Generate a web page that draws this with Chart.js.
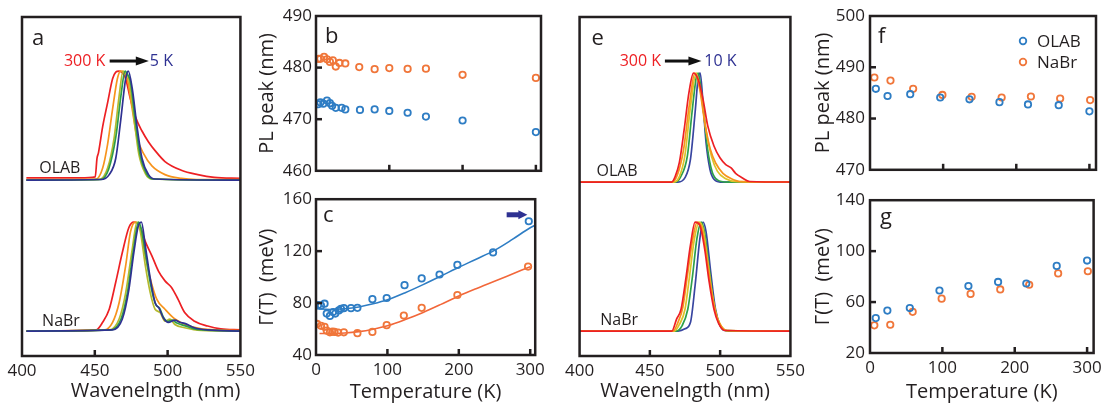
<!DOCTYPE html>
<html>
<head>
<meta charset="utf-8">
<script src="https://cdn.jsdelivr.net/npm/chart.js@4.4.1/dist/chart.umd.min.js"></script>
<style>
  body { margin: 0; background: #fff; width: 1107px; height: 404px; position: relative; overflow: hidden; }
  canvas { position: absolute; }
</style>
</head>
<body>
<canvas id="pa"></canvas>
<canvas id="pb"></canvas>
<canvas id="pc"></canvas>
<canvas id="pe"></canvas>
<canvas id="pf"></canvas>
<canvas id="pg"></canvas>
<script>
// ---- data ----
// spectra: [wavelength nm, normalised PL], ordered 300 K -> lowest T
const aOlabSpectra = [
  [[403,0.02],[440,0.02],[450.3,0.03],[451.5,0.2],[452.5,0.25],[455.4,0.49],[458.8,0.71],[462.2,0.93],[464.4,0.99],[466.5,1.0],[468.5,0.99],[471.2,0.93],[474.5,0.74],[477.9,0.58],[482.4,0.45],[486.9,0.35],[491.4,0.27],[498.2,0.17],[509.4,0.09],[520.7,0.05],[532,0.025],[550,0.015]],
  [[403,0.005],[451,0.01],[455.4,0.11],[458.8,0.33],[462.2,0.65],[465.5,0.93],[467.8,1.0],[470,0.99],[472.3,0.93],[475.7,0.65],[479,0.39],[483.6,0.24],[489.2,0.13],[498.2,0.05],[509.4,0.015],[520,0.005],[550,0.005]],
  [[403,0],[453,0.005],[458.8,0.11],[463.3,0.39],[466.7,0.77],[469.4,1.0],[471.5,0.97],[473.4,0.93],[476.8,0.58],[480.2,0.24],[484.7,0.06],[489.2,0.01],[550,0]],
  [[403,0],[454,0.005],[459.5,0.1],[464.5,0.4],[468,0.78],[470.8,1.0],[472.5,0.97],[474.5,0.9],[477.5,0.58],[481,0.24],[485.5,0.06],[490,0.01],[550,0]],
  [[403,0],[454.3,0.005],[459.9,0.05],[464.4,0.2],[467.8,0.55],[471.2,0.93],[473,1.0],[475.7,0.84],[479,0.49],[482.4,0.2],[486.9,0.05],[491.4,0.01],[550,0]]
];
const aNabrSpectra = [
  [[403,0],[450.9,0.01],[455.4,0.08],[459.9,0.2],[464.4,0.45],[468.9,0.72],[473.4,0.95],[476.8,1.0],[479,0.99],[481.3,0.95],[484.7,0.82],[489.2,0.69],[493.7,0.55],[498.2,0.46],[502.7,0.4],[507.2,0.29],[511.7,0.17],[518.5,0.09],[527.5,0.046],[536.5,0.02],[550,0.01]],
  [[403,0],[456.5,0.01],[462.2,0.08],[466.7,0.26],[471.2,0.6],[474.5,0.91],[477.9,1.0],[481.3,0.94],[484.7,0.69],[488.1,0.48],[492.6,0.29],[498.2,0.2],[505,0.11],[514,0.05],[527,0.015],[550,0.005]],
  [[403,0],[459.9,0.01],[466.7,0.11],[471.2,0.35],[475.7,0.75],[479,1.0],[481.3,0.91],[484.7,0.6],[488.1,0.35],[491.4,0.2],[494.8,0.17],[498.2,0.09],[501.6,0.11],[505,0.06],[511.7,0.03],[523,0.005],[550,0]],
  [[403,0],[461,0.01],[468,0.11],[472.5,0.36],[476.5,0.74],[480,1.0],[482,0.93],[485.5,0.65],[489,0.38],[492,0.24],[494.5,0.21],[497,0.13],[500,0.09],[503.5,0.1],[506,0.075],[511.7,0.05],[520,0.015],[550,0]],
  [[403,0],[462.2,0.01],[468.9,0.11],[473.4,0.38],[476.8,0.72],[480.2,0.98],[482,1.0],[484.7,0.78],[488.1,0.48],[491.4,0.26],[494.1,0.21],[497.1,0.12],[500.5,0.08],[505,0.1],[508.4,0.08],[511.7,0.07],[518.5,0.03],[527.5,0.01],[550,0]]
];
const eOlabSpectra = [
  [[400,0],[465.5,0],[468,0.05],[471,0.18],[474.4,0.48],[477.8,0.82],[481,1.0],[484.4,0.94],[487.8,0.76],[491.1,0.52],[495.6,0.33],[500,0.22],[504,0.16],[507.8,0.13],[511,0.08],[515.6,0.04],[521,0.005],[550,0]],
  [[400,0],[466,0],[470,0.08],[474,0.3],[478,0.7],[482,1.0],[485.5,0.85],[489,0.55],[493,0.3],[497,0.17],[502,0.08],[508,0.03],[515,0.003],[550,0]],
  [[400,0],[467,0],[471,0.05],[475,0.25],[479,0.7],[483,1.0],[486.5,0.8],[490,0.47],[494,0.23],[498,0.1],[504,0.03],[512,0.003],[550,0]],
  [[400,0],[467.8,0],[472,0.05],[476.7,0.24],[480,0.64],[483.3,0.98],[484.4,1.0],[487.5,0.73],[491.1,0.3],[494.4,0.09],[498,0.02],[505,0],[550,0]],
  [[400,0],[470,0],[475,0.04],[478.9,0.21],[482.2,0.64],[484.4,0.96],[485.8,1.0],[487.8,0.73],[490,0.36],[492.7,0.12],[495.6,0.025],[500,0],[550,0]]
];
const eNabrSpectra = [
  [[400,0],[465.6,0],[469,0.11],[472.2,0.2],[475.6,0.48],[478.9,0.79],[482.2,1.0],[485.6,0.97],[488.9,0.76],[492.2,0.45],[495.6,0.2],[498.9,0.07],[503.3,0.005],[550,0]],
  [[400,0],[466.5,0],[470,0.08],[473.5,0.22],[476.8,0.52],[480.2,0.82],[483.6,1.0],[486.8,0.95],[490,0.72],[493.2,0.42],[496.5,0.19],[500,0.06],[504.5,0.005],[550,0]],
  [[400,0],[467.5,0],[471,0.06],[475,0.2],[478.2,0.5],[481.5,0.83],[485,1.0],[488,0.93],[491,0.66],[494.2,0.35],[497.5,0.14],[501,0.04],[505,0.003],[550,0]],
  [[400,0],[468.5,0],[473,0.05],[477,0.2],[480.3,0.5],[483.5,0.85],[486.6,1.0],[489,0.9],[492,0.6],[495,0.3],[498.3,0.1],[502,0.02],[506,0],[550,0]],
  [[400,0],[470,0],[475,0.02],[478.9,0.08],[482.2,0.42],[485.6,0.85],[487.8,1.0],[490,0.91],[493.3,0.54],[496.7,0.2],[500,0.05],[503.3,0.005],[550,0]]
];

// b: PL peak vs T (5 K series)
const bTempOlab = [3, 6, 10, 15, 19, 22, 27, 35, 40, 60, 80, 100, 125, 150, 200, 300];
const bPeakOlab = [472.9, 473.25, 473.0, 473.6, 473.1, 472.6, 472.2, 472.2, 471.9, 471.8, 471.9, 471.6, 471.25, 470.5, 469.75, 467.5];
const bTempNabr = [3, 6, 11, 15, 19, 23, 27, 32, 40, 59, 80, 100, 125, 150, 200, 300];
const bPeakNabr = [481.7, 481.7, 482.1, 481.6, 481.1, 481.4, 480.2, 480.9, 480.8, 480.1, 479.7, 479.9, 479.75, 479.8, 478.6, 478.0];

// c: linewidth vs T with fits
const cTempOlab = [3, 7, 12, 15, 19.5, 24, 27, 32, 35, 39, 49, 58, 79, 99, 124, 148, 173, 198, 248, 298];
const cGammaOlab = [78.5, 78, 79.5, 71.9, 70.1, 73.1, 71.9, 74.3, 75.6, 76.1, 76.1, 76.3, 83, 83.9, 93.8, 99, 102, 109.4, 119, 143];
const cTempNabr = [1.5, 7, 12, 15, 19.5, 23, 26, 31, 39, 58, 79, 99, 123, 148, 198, 297];
const cGammaNabr = [63.9, 62.5, 61.7, 58.8, 57.5, 58, 57.8, 57.3, 57.5, 56.8, 57.8, 63, 70.4, 76.3, 86.2, 108.1];
const cFitTempOlab = [0, 20, 40, 60, 80, 100, 125, 150, 175, 200, 225, 250, 275, 300, 307];
const cFitOlab = [75.6, 75.1, 75.6, 77, 79.4, 82.5, 88, 94.2, 100.8, 107.6, 114, 120.6, 129, 138, 140];
const cFitTempNabr = [5, 20, 40, 60, 80, 100, 125, 150, 175, 200, 225, 250, 275, 300];
const cFitNabr = [56.6, 56.5, 56.9, 58, 59.9, 62.5, 67.3, 72.8, 79, 85.5, 91.3, 96.8, 102.4, 108];

// f, g: 10 K series
const fTempOlab = [8, 24, 55, 96, 136, 177, 216, 258, 300];
const fPeakOlab = [485.8, 484.4, 484.75, 484.1, 483.75, 483.2, 482.75, 482.6, 481.4];
const fTempNabr = [6, 28, 59, 99, 139, 180, 220, 260, 301];
const fPeakNabr = [488, 487.4, 485.8, 484.6, 484.25, 484.1, 484.3, 483.9, 483.6];
const gGammaOlab = [47.4, 53.3, 55.3, 69.1, 72.6, 75.8, 74.6, 88.4, 92.6];
const gGammaNabr = [41.7, 42.2, 52.3, 62.7, 66.4, 69.9, 73.6, 82.5, 84.2];

// tick values on the temperature axes
const tempTicks = [0, 100, 200, 300];

const INK = '#231f20';
const BLUE = '#2e7dc4';
const ORANGE = '#f0763a';
const FIT_ORANGE = '#f2673a';
const NAVY = '#2e3192';
const aColors = ['#ed2024', '#f7941d', '#b5ba2e', '#2e9e48', '#2e3192'];
const eColors = ['#ed2024', '#f7941d', '#dcc32a', '#2ea04a', '#3845a0'];

Chart.defaults.font.family = "'Open Sans', sans-serif";
Chart.defaults.color = INK;
Chart.defaults.animation = false;
Chart.defaults.events = [];
Chart.defaults.plugins.legend.display = false;
Chart.defaults.plugins.tooltip.enabled = false;

// frame, inward ticks and panel letter
const framePlugin = {
  id: 'frame',
  afterDraw(chart, args, opts) {
    const {ctx, chartArea: a} = chart;
    ctx.save();
    ctx.strokeStyle = INK;
    ctx.lineWidth = 2.5;
    const xs = chart.scales.x, ys = chart.scales.y;
    xs.ticks.forEach(t => {
      const p = xs.getPixelForValue(t.value);
      if (p < a.left + 4 || p > a.right - 2) return;
      ctx.beginPath(); ctx.moveTo(p, a.bottom); ctx.lineTo(p, a.bottom - 6); ctx.stroke();
    });
    if (opts.yTicks) {
      ys.ticks.forEach(t => {
        const p = ys.getPixelForValue(t.value);
        if (p < a.top + 4 || p > a.bottom - 4) return;
        ctx.beginPath(); ctx.moveTo(a.left, p); ctx.lineTo(a.left + 6, p); ctx.stroke();
      });
    }
    ctx.strokeRect(a.left, a.top, a.width, a.height);
    if (opts.letter) {
      ctx.fillStyle = INK;
      ctx.font = "22px 'Open Sans'";
      ctx.textBaseline = 'alphabetic';
      ctx.fillText(opts.letter, a.left + opts.lx, a.top + opts.ly);
    }
    ctx.restore();
  }
};

function drawArrow(ctx, x1, x2, y, color, w, hl, hh) {
  ctx.fillStyle = color; ctx.strokeStyle = color; ctx.lineWidth = w;
  ctx.beginPath(); ctx.moveTo(x1, y); ctx.lineTo(x2 - hl + 1, y); ctx.stroke();
  ctx.beginPath(); ctx.moveTo(x2, y); ctx.lineTo(x2 - hl, y - hh); ctx.lineTo(x2 - hl, y + hh); ctx.closePath(); ctx.fill();
}

// text labels and arrows placed in data units
const notesPlugin = {
  id: 'notes',
  afterDatasetsDraw(chart, args, opts) {
    if (!opts.items) return;
    const {ctx} = chart;
    const xs = chart.scales.x, ys = chart.scales.y;
    ctx.save();
    opts.items.forEach(it => {
      const px = xs.getPixelForValue(it.x), py = ys.getPixelForValue(it.y);
      if (it.to !== undefined) {
        drawArrow(ctx, px, xs.getPixelForValue(it.to), py, it.color, it.w, it.hl, it.hh);
      } else {
        ctx.font = (it.size || 16) + "px 'Open Sans'";
        ctx.fillStyle = it.color || INK;
        ctx.textAlign = it.align || 'left';
        ctx.textBaseline = 'middle';
        ctx.fillText(it.text, px, py);
      }
    });
    ctx.restore();
  }
};

// legend inside the chart area (panel f)
const keyPlugin = {
  id: 'key',
  afterDraw(chart, args, opts) {
    if (!opts.show) return;
    const {ctx, chartArea: a} = chart;
    ctx.save();
    ctx.font = "17px 'Open Sans'";
    ctx.textBaseline = 'middle';
    chart.data.datasets.forEach((ds, i) => {
      const y = a.top + 25 + i * 21;
      ctx.strokeStyle = ds.pointBorderColor;
      ctx.lineWidth = 1.8;
      ctx.beginPath(); ctx.arc(a.right - 73, y, 3.3, 0, Math.PI * 2); ctx.stroke();
      ctx.fillStyle = INK;
      ctx.fillText(ds.label, a.right - 59, y + 1);
    });
    ctx.restore();
  }
};

Chart.register(framePlugin, notesPlugin, keyPlugin);

function place(id, left, top, w, h) {
  const c = document.getElementById(id);
  c.width = w; c.height = h;
  c.style.left = left + 'px'; c.style.top = top + 'px';
  return c;
}

function pts(xs, ys) { return xs.map((x, i) => ({x: x, y: ys[i]})); }

function marks(label, xs, ys, color) {
  return {
    label: label, data: pts(xs, ys), showLine: false,
    pointRadius: 3.2, pointBorderWidth: 1.8,
    pointBorderColor: color, pointBackgroundColor: 'rgba(255,255,255,0)', borderColor: color
  };
}

function curve(xs, ys, color) {
  return {
    data: pts(xs, ys), showLine: true, pointRadius: 0,
    borderColor: color, borderWidth: 1.6, cubicInterpolationMode: 'monotone'
  };
}

function spectra(list, colors, offset) {
  return list.map((s, i) => ({
    data: s.map(p => ({x: p[0], y: p[1] + offset})),
    showLine: true, pointRadius: 0, borderColor: colors[i],
    borderWidth: 1.7, cubicInterpolationMode: 'monotone'
  }));
}

function xAxis(min, max, step, o) {
  const ax = {
    type: 'linear', min: min, max: max,
    grid: {display: false, drawTicks: false},
    border: {display: false},
    ticks: {stepSize: step, includeBounds: false, display: !!o.labels, padding: o.pad || 0,
            font: {size: 17}, color: INK, maxRotation: 0},
    title: {display: !!o.title, text: o.title || '', font: {size: 20}, color: INK,
            align: o.talign || 'center', padding: {top: 0, bottom: o.tpad || 0}},
    afterFit: s => { s.height = o.h; }
  };
  if (o.values) {
    ax.afterBuildTicks = s => { s.ticks = o.values.map(v => ({value: v})); };
  }
  return ax;
}

function yAxis(min, max, step, o) {
  return {
    type: 'linear', min: min, max: max,
    grid: {display: false, drawTicks: false},
    border: {display: false},
    ticks: {stepSize: step, includeBounds: false, padding: o.pad, font: {size: 17}, color: INK},
    title: {display: true, text: o.title, font: {size: 20}, color: INK,
            padding: {top: o.tpad, bottom: 0}},
    afterFit: s => { s.width = o.w; }
  };
}

const base = {responsive: false, devicePixelRatio: 1, maintainAspectRatio: false};

// ---- panel a ----
new Chart(place('pa', 0, 0, 260, 404), {
  type: 'scatter',
  data: {datasets: spectra(aOlabSpectra, aColors, 1.385).reverse()
                   .concat(spectra(aNabrSpectra, aColors, 0).reverse())},
  options: Object.assign({}, base, {
    layout: {padding: {left: 22, right: 15, top: 17, bottom: 0}},
    scales: {
      x: xAxis(400, 550, 50, {labels: true, pad: 5, title: 'Wavenelngth (nm)', talign: 'end', tpad: 1, h: 48}),
      y: {display: false, min: -0.229, max: 2.881}
    },
    plugins: {
      frame: {letter: 'a', lx: 10, ly: 28},
      notes: {items: [
        {x: 457.2, y: 2.477, text: '300 K', color: '#ed2024', align: 'right'},
        {x: 460.2, to: 487.1, y: 2.477, color: '#111', w: 3, hl: 13, hh: 4.5},
        {x: 487.8, y: 2.477, text: '5 K', color: NAVY},
        {x: 411.8, y: 1.495, text: 'OLAB'},
        {x: 413.8, y: 0.092, text: 'NaBr'}
      ]}
    }
  })
});

// ---- panel b ----
new Chart(place('pb', 253, 0, 297, 185), {
  type: 'scatter',
  data: {datasets: [
    marks('OLAB', bTempOlab, bPeakOlab, BLUE),
    marks('NaBr', bTempNabr, bPeakNabr, ORANGE)
  ]},
  options: Object.assign({}, base, {
    layout: {padding: {left: 0, right: 9, top: 16, bottom: 0}},
    scales: {
      x: xAxis(0, 307, 100, {labels: false, h: 8, values: tempTicks}),
      y: yAxis(460, 490, 10, {pad: 4, title: 'PL peak (nm)', tpad: 2, w: 63})
    },
    plugins: {frame: {letter: 'b', lx: 9, ly: 27, yTicks: true}}
  })
});

// ---- panel c ----
new Chart(place('pc', 253, 185, 297, 219), {
  type: 'scatter',
  data: {datasets: [
    marks('OLAB', cTempOlab, cGammaOlab, BLUE),
    marks('NaBr', cTempNabr, cGammaNabr, ORANGE),
    curve(cFitTempOlab, cFitOlab, BLUE),
    curve(cFitTempNabr, cFitNabr, FIT_ORANGE)
  ]},
  options: Object.assign({}, base, {
    layout: {padding: {left: 0, right: 9, top: 10, bottom: 0}},
    scales: {
      x: xAxis(0, 307, 100, {labels: true, pad: 5, title: 'Temperature (K)', tpad: 0, h: 49, values: tempTicks}),
      y: yAxis(40, 160, 40, {pad: 4, title: 'Γ(T)  (meV)', tpad: 2, w: 63})
    },
    plugins: {
      frame: {letter: 'c', lx: 7, ly: 23, yTicks: true},
      notes: {items: [{x: 267, to: 296, y: 148, color: NAVY, w: 5, hl: 9, hh: 4.5}]}
    }
  })
});

// ---- panel e ----
new Chart(place('pe', 560, 0, 250, 404), {
  type: 'scatter',
  data: {datasets: spectra(eOlabSpectra, eColors, 1.367)
                   .concat(spectra(eNabrSpectra, eColors, 0))},
  options: Object.assign({}, base, {
    layout: {padding: {left: 15, right: 10, top: 17, bottom: 0}},
    scales: {
      x: xAxis(400, 550, 50, {labels: true, pad: 5, title: 'Wavenelngth (nm)', tpad: 1, h: 48}),
      y: {display: false, min: -0.229, max: 2.881}
    },
    plugins: {
      frame: {letter: 'e', lx: 12, ly: 28},
      notes: {items: [
        {x: 458, y: 2.477, text: '300 K', color: '#ed2024', align: 'right'},
        {x: 460.7, to: 486.7, y: 2.477, color: '#111', w: 3, hl: 13, hh: 4.5},
        {x: 488.7, y: 2.477, text: '10 K', color: NAVY},
        {x: 412, y: 1.468, text: 'OLAB'},
        {x: 414.7, y: 0.101, text: 'NaBr'}
      ]}
    }
  })
});

// ---- panel f ----
new Chart(place('pf', 806, 0, 301, 185), {
  type: 'scatter',
  data: {datasets: [
    marks('OLAB', fTempOlab, fPeakOlab, BLUE),
    marks('NaBr', fTempNabr, fPeakNabr, ORANGE)
  ]},
  options: Object.assign({}, base, {
    layout: {padding: {left: 0, right: 11, top: 16, bottom: 0}},
    scales: {
      x: xAxis(0, 309, 100, {labels: false, h: 8, values: tempTicks}),
      y: yAxis(470, 500, 10, {pad: 5, title: 'PL peak (nm)', tpad: 5, w: 64})
    },
    plugins: {frame: {letter: 'f', lx: 8, ly: 27, yTicks: true}, key: {show: true}}
  })
});

// ---- panel g ----
new Chart(place('pg', 806, 185, 301, 219), {
  type: 'scatter',
  data: {datasets: [
    marks('OLAB', fTempOlab, gGammaOlab, BLUE),
    marks('NaBr', fTempNabr, gGammaNabr, ORANGE)
  ]},
  options: Object.assign({}, base, {
    layout: {padding: {left: 0, right: 11, top: 8, bottom: 0}},
    scales: {
      x: xAxis(0, 309, 100, {labels: true, pad: 5, title: 'Temperature (K)', tpad: 0, h: 51, values: tempTicks}),
      y: yAxis(20, 140, 40, {pad: 5, title: 'Γ(T)  (meV)', tpad: 5, w: 64})
    },
    plugins: {frame: {letter: 'g', lx: 10, ly: 24, yTicks: true}}
  })
});
</script>
</body>
</html>
